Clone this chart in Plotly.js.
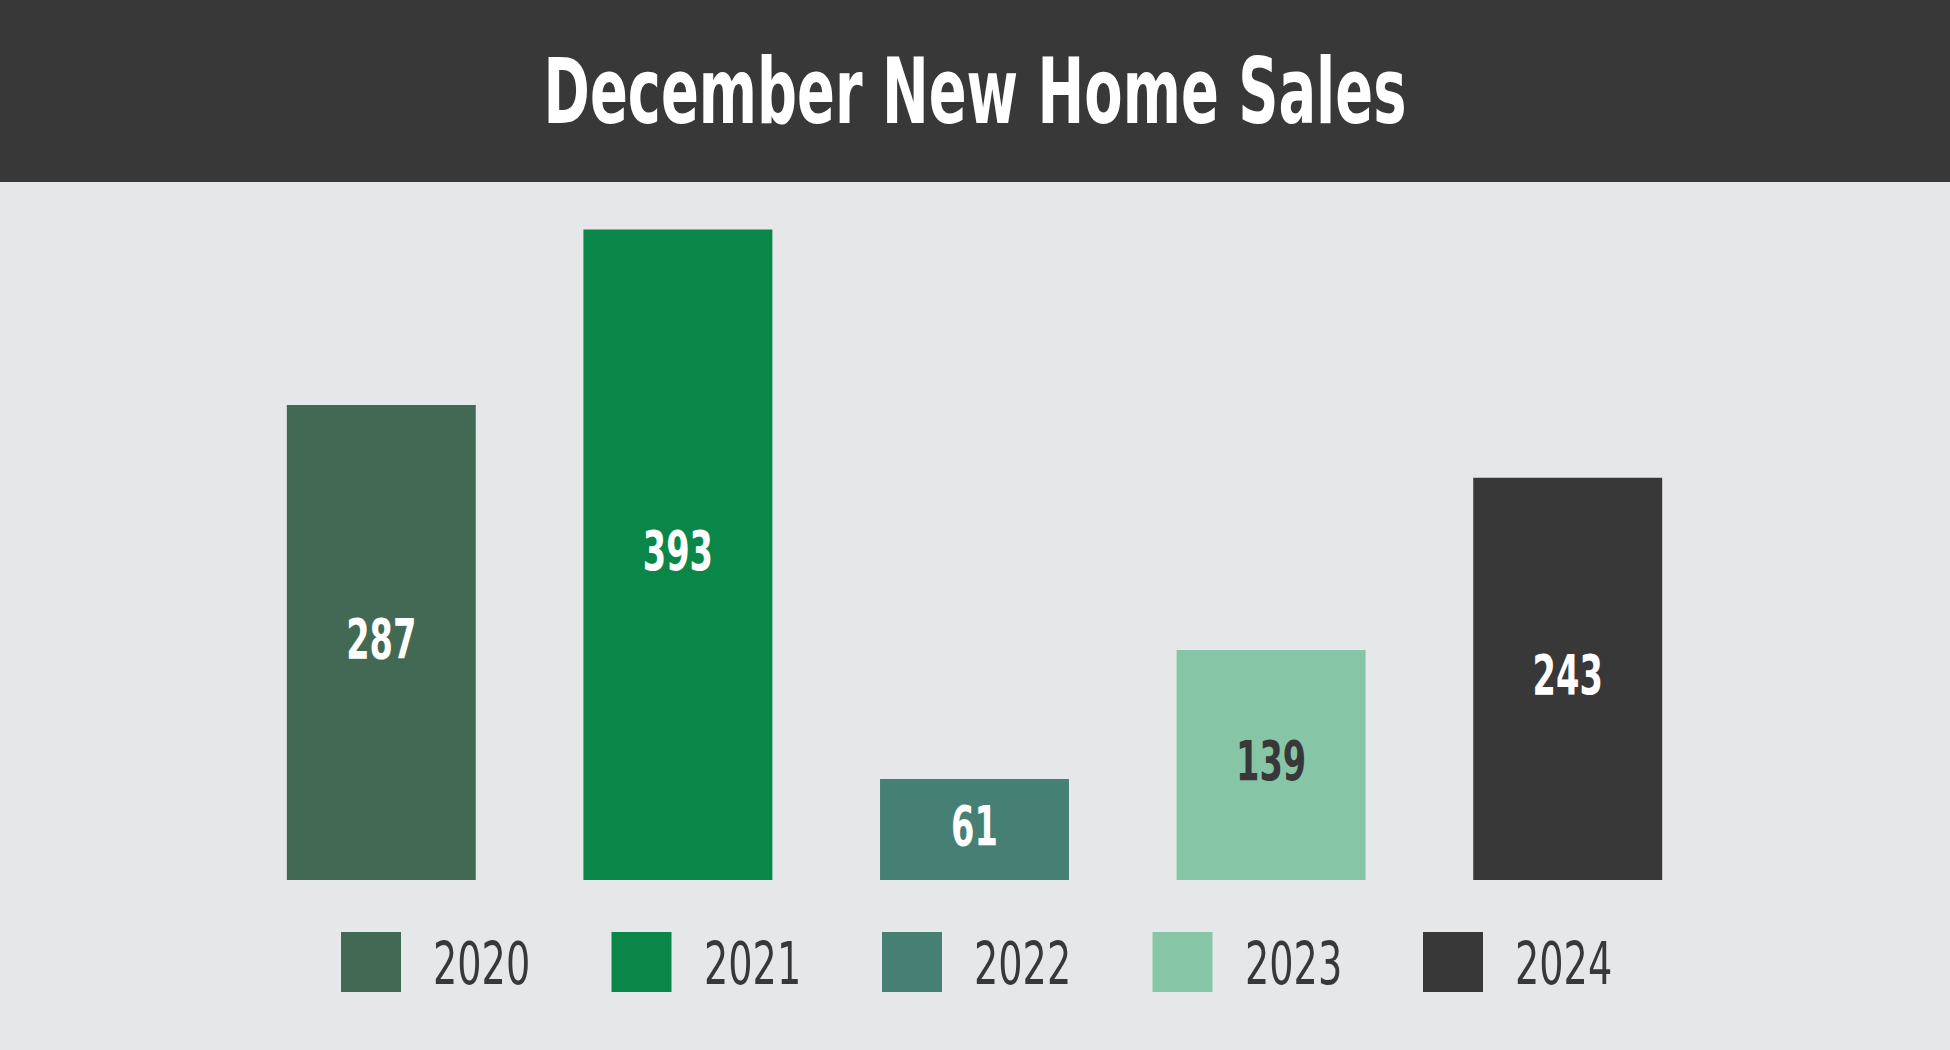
<!DOCTYPE html>
<html>
<head>
<meta charset="utf-8">
<script src="https://cdn.plot.ly/plotly-3.0.1.min.js"></script>
<style>
  html, body { margin: 0; padding: 0; background: #E6E7E9; }
  #chart { width: 1950px; height: 1050px; }
</style>
</head>
<body>
<div id="chart"></div>
<script>
// ---- data ----
const years = ["2020", "2021", "2022", "2023", "2024"];
const sales = [287, 393, 61, 139, 243];
const barColors = ["#426953", "#0A8748", "#468074", "#86C5A6", "#383838"];
const labelColors = ["#FFFFFF", "#FFFFFF", "#FFFFFF", "#383838", "#FFFFFF"];
const chartTitle = "December New Home Sales";

// ---- layout constants (pixels) ----
const W = 1950, H = 1050;
const M = { l: 233, r: 234, t: 200, b: 170 };
const plotW = W - M.l - M.r, plotH = H - M.t - M.b;
const headerBottom = 182;
const condensed = "'DejaVu Sans Condensed', 'Liberation Sans Narrow', 'Arial Narrow', sans-serif";

const px2paperX = px => (px - M.l) / plotW;
const px2paperY = py => (H - M.b - py) / plotH;

const traces = years.map((yr, i) => ({
  type: "bar",
  name: yr,
  x: [yr],
  y: [sales[i]],
  width: 0.637,
  marker: { color: barColors[i], line: { width: 0 } },
  text: [String(sales[i])],
  textposition: "inside",
  insidetextanchor: "middle",
  textangle: 0,
  constraintext: "none",
  textfont: { family: condensed, size: 55, color: labelColors[i], weight: 700 },
  hoverinfo: "skip"
}));

// header band
const shapes = [{
  type: "rect", xref: "paper", yref: "paper", layer: "below",
  x0: -0.5, x1: 1.5, y0: px2paperY(headerBottom), y1: px2paperY(-60),
  fillcolor: "#383838", line: { width: 0 }
}];
const annotations = [];

// custom legend built from the arrays
const legStartPx = 341, legStepPx = 270.5, swSize = 60, legTopPx = 932;
years.forEach((yr, i) => {
  const left = legStartPx + i * legStepPx;
  shapes.push({
    type: "rect", xref: "paper", yref: "paper",
    x0: px2paperX(left), x1: px2paperX(left + swSize),
    y0: px2paperY(legTopPx), y1: px2paperY(legTopPx + swSize),
    fillcolor: barColors[i], line: { width: 0 }
  });
  annotations.push({
    xref: "paper", yref: "paper",
    x: px2paperX(left + 90), y: px2paperY(legTopPx + swSize / 2 + 1),
    xanchor: "left", yanchor: "middle",
    text: yr, showarrow: false,
    font: { family: condensed, size: 59, color: "#383838" }
  });
});

const layout = {
  width: W, height: H,
  margin: M,
  paper_bgcolor: "#E6E7E9",
  plot_bgcolor: "#E6E7E9",
  barmode: "overlay",
  showlegend: false,
  title: {
    text: chartTitle,
    x: 0.5, xref: "container", xanchor: "center",
    y: 1 - 92 / H, yref: "container", yanchor: "middle",
    font: { family: condensed, size: 90, color: "#FFFFFF", weight: 700 }
  },
  xaxis: {
    type: "category", categoryorder: "array", categoryarray: years,
    range: [-0.5, years.length - 0.5],
    showticklabels: false, showgrid: false, zeroline: false, showline: false, ticks: ""
  },
  yaxis: {
    range: [0, plotH / 1.655],
    showticklabels: false, showgrid: false, zeroline: false, showline: false, ticks: ""
  },
  shapes: shapes,
  annotations: annotations,
  hovermode: false
};

// squeeze text horizontally to imitate the reference's very condensed typeface
function squeeze(el, s, anchor, dy) {
  const bb = el.getBBox();
  const ox = anchor === "left" ? bb.x : bb.x + bb.width / 2;
  const prev = el.getAttribute("transform") || "";
  el.setAttribute("transform",
    prev + " translate(0," + (dy || 0) + ") translate(" + ox + ",0) scale(" + s + ",1) translate(" + (-ox) + ",0)");
}

Plotly.newPlot("chart", traces, layout, { displayModeBar: false, staticPlot: true }).then(gd => {
  gd.querySelectorAll(".gtitle").forEach(el => squeeze(el, 0.69, "center", 0));
  gd.querySelectorAll("text.bartext").forEach(el => squeeze(el, 0.68, "center", -4));
  gd.querySelectorAll(".annotation-text").forEach(el => squeeze(el, 0.72, "left", 0));
});
</script>
</body>
</html>
